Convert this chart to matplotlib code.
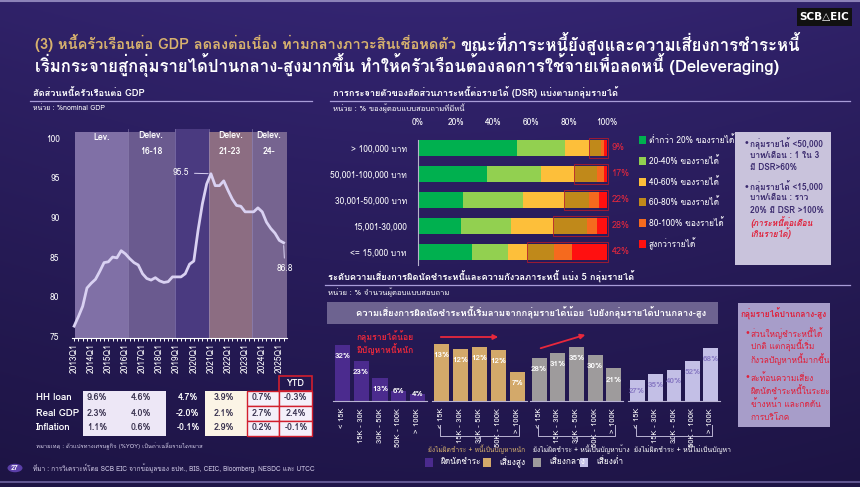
import numpy as np
import matplotlib
matplotlib.use("Agg")
import matplotlib.pyplot as plt
from matplotlib import font_manager
from matplotlib.ft2font import FT2Font
from matplotlib.patches import Rectangle, Circle, FancyArrowPatch
from matplotlib.lines import Line2D

W, H = 860, 487

# ---------------- data ----------------
quarters = [f"{y}Q{q}" for y in range(2013, 2026) for q in range(1, 5)][:50]
hh_debt = [76.3, 77.5, 78.8, 81.1, 81.7, 82.2, 83.2, 84.3, 84.4, 85.0, 84.9, 85.8,
           85.4, 84.8, 84.3, 84.0, 82.9, 82.3, 82.1, 82.4, 82.0, 81.8, 81.9, 82.5,
           82.5, 82.5, 82.9, 84.1, 84.5, 88.4, 91.7, 94.2, 95.5, 94.0, 94.0, 94.6,
           93.4, 92.3, 91.5, 91.4, 90.7, 90.7, 90.7, 91.2, 90.7, 89.4, 88.6, 88.0,
           87.1, 86.8]
period_names = ["Lev.", "Delev.\n16-18", "", "Delev.\n21-23", "Delev.\n24-"]
period_edges = [0.3, 12.5, 23.5, 31.5, 41.5, 49.7]

tbl_rows = ["HH loan", "Real GDP", "Inflation"]
hh_loan = ["9.6%", "4.6%", "4.7%", "3.9%", "0.7%", "-0.3%"]
real_gdp = ["2.3%", "4.0%", "-2.0%", "2.1%", "2.7%", "2.4%"]
inflation = ["1.1%", "0.6%", "-0.1%", "2.9%", "0.2%", "-0.1%"]

income_groups = ["> 100,000 บาท", "50,001-100,000 บาท", "30,001-50,000 บาท",
                 "15,001-30,000", "<= 15,000 บาท"]
dsr_labels = ["ต่ำกว่า 20% ของรายได้", "20-40% ของรายได้", "40-60% ของรายได้",
              "60-80% ของรายได้", "80-100% ของรายได้", "สูงกว่ารายได้"]
dsr_lt20 = [52.5, 36.5, 23.8, 22.6, 28.5]
dsr_20_40 = [25.5, 28.8, 31.6, 26.4, 19.0]
dsr_40_60 = [13.0, 17.6, 22.2, 23.0, 10.5]
dsr_60_80 = [6.0, 12.0, 12.9, 17.5, 14.0]
dsr_80_100 = [1.5, 3.3, 5.1, 5.0, 9.5]
dsr_gt100 = [1.5, 1.8, 4.4, 5.5, 18.5]
dsr_high = ["9%", "17%", "22%", "28%", "42%"]

risk_bins = ["< 15K", "15K - 30K", "30K - 50K", "50K - 100K", "> 100K"]
risk_default = [32, 23, 13, 6, 4]
risk_high = [13.0, 11.9, 12.3, 11.7, 6.7]
risk_mid = [28, 31, 35, 30, 21]
risk_low = [27, 35, 40, 52, 68]
risk_names = ["ผิดนัดชำระ", "เสี่ยงสูง", "เสี่ยงกลาง", "เสี่ยงต่ำ"]
group_notes = ["ยังไม่ผิดชำระ + หนี้เป็นปัญหาหนัก", "ยังไม่ผิดชำระ + หนี้เป็นปัญหาบ้าง",
               "ยังไม่ผิดชำระ + หนี้ไม่เป็นปัญหา"]


# ---------------- fonts ----------------
def thai_family():
    for f in font_manager.fontManager.ttflist:
        try:
            if 0x0E01 in FT2Font(f.fname).get_charmap():
                return f.name
        except Exception:
            pass
    return None


fam = thai_family()
plt.rcParams["font.family"] = ([fam] if fam else []) + ["DejaVu Sans"]

WHITE = "#FFFFFF"
GOLD = "#D8B26E"
RED = "#E8283C"


def fx(x):
    return x / W


def fy(y):
    return 1 - y / H


def axes_px(fig, l, t, r, b, **kw):
    return fig.add_axes([fx(l), fy(b), (r - l) / W, (b - t) / H], **kw)


def text_px(fig, x, y, s, **kw):
    kw.setdefault("color", WHITE)
    return fig.text(fx(x), fy(y), s, **kw)


def rect_px(fig, l, t, r, b, **kw):
    p = Rectangle((fx(l), fy(b)), (r - l) / W, (b - t) / H, transform=fig.transFigure, **kw)
    fig.add_artist(p)
    return p


def line_px(fig, xs, ys, **kw):
    fig.add_artist(Line2D([fx(x) for x in xs], [fy(y) for y in ys],
                          transform=fig.transFigure, **kw))


def fit(t, width, cap=None):
    # scale a text so that it spans about `width` pixels
    w = t.get_window_extent(renderer).width
    size = t.get_fontsize() * width / w
    t.set_fontsize(min(size, cap) if cap else size)
    return t


fig = plt.figure(figsize=(8.6, 4.87), dpi=100)
renderer = fig.canvas.get_renderer()

# background gradient
bg = fig.add_axes([0, 0, 1, 1], zorder=-10)
yy, xx = np.mgrid[0:1:200j, 0:1:300j]
top = np.array([0x30, 0x22, 0x69]) / 255
bot = np.array([0x1D, 0x14, 0x44]) / 255
t = (yy ** 0.9)[..., None]
grad = top * (1 - t) + bot * t
grad = grad * (1 + 0.08 * np.sin(np.pi * xx)[..., None])
bg.imshow(np.clip(grad, 0, 1), aspect="auto", extent=[0, 1, 0, 1], origin="upper")
bg.axis("off")
line_px(fig, [0, W], [1, 1], color="#8C82B8", lw=1.5)
line_px(fig, [0, W], [482, 482], color="#6E64A0", lw=1.2)

# logo
rect_px(fig, 797, 8, 852, 26, facecolor="#111111", edgecolor="none")
text_px(fig, 824.5, 17, "SCB△EIC", fontsize=7.5, fontweight="bold", ha="center",
        va="center", family="DejaVu Sans")

# title
t2 = text_px(fig, 35, 65, "เริ่มกระจายสู่กลุ่มรายได้ปานกลาง-สูงมากขึ้น ทำให้ครัวเรือนต้องลดการใช้จ่ายเพื่อลดหนี้ (Deleveraging)",
             fontsize=13, fontweight="bold", va="center")
fit(t2, 745)
fs = t2.get_fontsize()
t1 = text_px(fig, 35, 43, "(3) หนี้ครัวเรือนต่อ GDP ลดลงต่อเนื่อง ท่ามกลางภาวะสินเชื่อหดตัว",
             fontsize=fs, color=GOLD, fontweight="bold", va="center")
fit(t1, 421, cap=fs)
bb = t1.get_window_extent(renderer)
t1b = text_px(fig, bb.x1 + 4, 43, "ขณะที่ภาระหนี้ยังสูงและความเสี่ยงการชำระหนี้",
              fontsize=fs, fontweight="bold", va="center")
fit(t1b, 836 - bb.x1 - 4, cap=fs)

# section headers
for x0, x1, y, s, wd in [(33, 312, 93, "สัดส่วนหนี้ครัวเรือนต่อ GDP", 111),
                         (333, 850, 93, "การกระจายตัวของสัดส่วนภาระหนี้ต่อรายได้ (DSR) แบ่งตามกลุ่มรายได้", 284),
                         (328, 850, 277, "ระดับความเสี่ยงการผิดนัดชำระหนี้และความกังวลภาระหนี้ แบ่ง 5 กลุ่มรายได้", 307)]:
    fit(text_px(fig, x0, y, s, fontsize=7, fontweight="bold", va="center"), wd)
    line_px(fig, [x0 - 3, x1], [y + 8, y + 8], color="#A89CD8", lw=0.9)
text_px(fig, 33, 109, "หน่วย : %nominal GDP", fontsize=5, va="center")
text_px(fig, 333, 109, "หน่วย : % ของผู้ตอบแบบสอบถามที่มีหนี้", fontsize=5.5, va="center")
text_px(fig, 328, 293, "หน่วย : % จำนวนผู้ตอบแบบสอบถาม", fontsize=5.5, va="center")

# ---------------- left: household debt to GDP ----------------
ax = axes_px(fig, 72, 128.5, 287, 338)
ax.patch.set_alpha(0)
xi = np.arange(len(hh_debt))
pcol = ["#8070A6", "#6A5A8F", "#4A3A80", "#8C6D82", "#766490"]
for i in range(5):
    ax.axvspan(period_edges[i], period_edges[i + 1], ymin=0, ymax=0.985 if i != 2 else 1.0,
               color=pcol[i], lw=0, zorder=0)
    if period_names[i]:
        ax.text((period_edges[i] + period_edges[i + 1]) / 2, 99.3 if i else 100.1,
                period_names[i], ha="center", va="center", color=WHITE,
                fontsize=6.3, fontweight="bold", linespacing=1.9)
for e in period_edges[1:-1]:
    ax.axvline(e, color="#9A8FBE", lw=0.6, alpha=0.6, zorder=1)
ax.plot(xi, hh_debt, color="#D9D1F2", lw=2, zorder=3)
ax.set_xlim(-0.5, 49.8)
ax.set_ylim(74.8, 101.2)
ax.set_yticks(np.arange(75, 101, 5))
ax.set_xticks(xi[::4])
ax.set_xticklabels(quarters[::4], rotation=90)
ax.set_xticks(xi, minor=True)
ax.tick_params(axis="x", which="both", colors=WHITE, labelsize=6, length=2.5, width=0.7, pad=1.5)
ax.tick_params(axis="y", colors=WHITE, labelsize=6, length=0, pad=9)
for s in ["top", "right", "left"]:
    ax.spines[s].set_visible(False)
ax.spines["bottom"].set_color(WHITE)
ip = hh_debt.index(max(hh_debt))
ax.annotate(f"{max(hh_debt):.1f}", xy=(xi[ip], hh_debt[ip]), xytext=(xi[ip] - 9, hh_debt[ip] + 0.1),
            color=WHITE, fontsize=6, va="center",
            arrowprops=dict(arrowstyle="-", color="#D9D1F2", lw=0.7))
ax.annotate(f"{hh_debt[-1]:.1f}", xy=(xi[-1], hh_debt[-1]), xytext=(xi[-1] + 0.3, hh_debt[-1] - 3.2),
            color=WHITE, fontsize=6, ha="center", va="center",
            arrowprops=dict(arrowstyle="-", color="#D9D1F2", lw=0.7))

# table
col_x = [97, 141, 188, 224, 262, 296]
row_y = [398, 413, 428]
rect_px(fig, 83, 391, 166, 436, facecolor="#EDE7F6", edgecolor="none")
rect_px(fig, 205, 391, 247, 436, facecolor="#FBF4E6", edgecolor="none")
for j, (l, r) in enumerate([(247, 278.5), (278.5, 312)]):
    for k in range(3):
        rect_px(fig, l, 391 + 15 * k, r, 406 + 15 * k, facecolor="#F4F0FA",
                edgecolor="#D21F2E", lw=1)
rect_px(fig, 278.5, 376, 312, 391, facecolor="none", edgecolor="#D21F2E", lw=1.2)
text_px(fig, 295, 383.5, "YTD", fontsize=6.5, fontweight="bold", ha="center", va="center")
for k, (name, vals) in enumerate(zip(tbl_rows, [hh_loan, real_gdp, inflation])):
    text_px(fig, 36, row_y[k], name, fontsize=7, fontweight="bold", va="center")
    for j, v in enumerate(vals):
        text_px(fig, col_x[j], row_y[k], v, fontsize=6.5, fontweight="bold", ha="center",
                va="center", color=WHITE if j == 2 else "#3A3350")
fit(text_px(fig, 36, 446, "หมายเหตุ : ตัวแปรทางเศรษฐกิจ (%YOY) เป็นค่าเฉลี่ยรายไตรมาส",
            fontsize=4.5, va="center", color="#D5CFEA"), 167)

# footer
fig.add_artist(Circle((fx(15), fy(468)), 7.5 / W, transform=fig.transFigure,
                      facecolor="#5B3FA8", edgecolor="none"))
text_px(fig, 15, 468, "27", fontsize=5, ha="center", va="center", fontweight="bold")
fit(text_px(fig, 33, 468, "ที่มา : การวิเคราะห์โดย SCB EIC จากข้อมูลของ ธปท., BIS, CEIC, Bloomberg, NESDC และ UTCC",
            fontsize=5.5, va="center", color="#D5CFEA"), 283)

# ---------------- top right: DSR distribution ----------------
ax2 = axes_px(fig, 418, 135, 607, 265)
ax2.patch.set_alpha(0)
dsr_cols = ["#00B04F", "#92D050", "#FDBF3A", "#C0891A", "#F56A1E", "#FF1010"]
yi = np.arange(len(income_groups))
left = np.zeros(len(income_groups))
series = [dsr_lt20, dsr_20_40, dsr_40_60, dsr_60_80, dsr_80_100, dsr_gt100]
for k, (vals, c) in enumerate(zip(series, dsr_cols)):
    ax2.barh(yi, vals, left=left, height=0.65, color=c, edgecolor="none", zorder=2)
    if k == 3:
        starts = left.copy()
    left = left + np.array(vals)
for i in yi:
    ax2.add_patch(Rectangle((starts[i] - 0.5, i - 0.38), 100.8 - starts[i], 0.76, fill=False,
                            edgecolor="#B01A2C", lw=0.6, zorder=3, clip_on=False))
    ax2.text(102.5, i, dsr_high[i], color=RED, fontsize=6.5, va="center", ha="left")
ax2.set_xlim(0, 100)
ax2.set_ylim(4.5, -0.5)
ax2.xaxis.tick_top()
ax2.set_xticks(np.arange(0, 101, 20))
ax2.set_xticklabels([f"{v}%" for v in range(0, 101, 20)])
ax2.set_yticks(yi)
ax2.set_yticklabels(income_groups)
ax2.tick_params(colors=WHITE, labelsize=6, length=0, pad=8)
ax2.tick_params(axis="x", pad=6)
for s in ["top", "right", "bottom"]:
    ax2.spines[s].set_visible(False)
ax2.spines["left"].set_color("#B8B2CC")
ax2.spines["left"].set_bounds(-0.3, 4.5)
for k, (lab, c) in enumerate(zip(dsr_labels, dsr_cols)):
    y = 140 + 20.8 * k
    rect_px(fig, 639, y - 4, 646, y + 4, facecolor=c, edgecolor="none")
    text_px(fig, 649, y, lab, fontsize=6, va="center")

# note box top right
rect_px(fig, 735, 132, 831, 265, facecolor="#C9C3DC", edgecolor="none")
notes1 = [("•", 745, 144, "#3A2A6E"), ("กลุ่มรายได้ <50,000", 750, 144, "#3A2A6E"),
          ("บาท/เดือน : 1 ใน 3", 750, 156, "#3A2A6E"), ("มี DSR>60%", 750, 167, "#3A2A6E"),
          ("•", 745, 187, "#3A2A6E"), ("กลุ่มรายได้ <15,000", 750, 187, "#3A2A6E"),
          ("บาท/เดือน : ราว", 750, 198, "#3A2A6E"), ("20% มี DSR >100%", 750, 210, "#3A2A6E"),
          ("(ภาระหนี้ต่อเดือน", 750, 222, "#E0203A"), ("เกินรายได้)", 750, 233, "#E0203A")]
for s, x, y, c in notes1:
    text_px(fig, x, y, s, fontsize=6, va="center", color=c,
            fontweight="bold", style="italic" if c == "#E0203A" else "normal")

# ---------------- bottom right: risk groups ----------------
rect_px(fig, 327, 302, 718, 324, facecolor="#6D6390", edgecolor="none")
fit(text_px(fig, 531, 313, "ความเสี่ยงการผิดนัดชำระหนี้เริ่มลามจากกลุ่มรายได้น้อย ไปยังกลุ่มรายได้ปานกลาง-สูง",
            fontsize=7.5, fontweight="bold", ha="center", va="center"), 352)

groups = [risk_default, risk_high, risk_mid, risk_low]
gcols = ["#4B2B8E", "#D3A96A", "#9E9B9C", "#C3BFE6"]
lcols = [WHITE, WHITE, WHITE, "#8677C2"]
gspan = [(333, 427), (432, 527), (530, 623), (628, 720)]
gtop = [34.9, 13.9, 39.4, 78.7]
for g, vals in enumerate(groups):
    l, r = gspan[g]
    a = axes_px(fig, l, 340, r, 401)
    a.patch.set_alpha(0)
    bi = np.arange(len(vals))
    a.bar(bi, vals, width=0.8, color=gcols[g], edgecolor="none")
    a.set_xlim(-0.5, 4.5)
    a.set_ylim(0, gtop[g])
    for i, v in enumerate(vals):
        hpx = v / gtop[g] * 61
        off = -8 if hpx > 16 else 0
        a.annotate(f"{v:.0f}%", xy=(i, v), xytext=(0, off), textcoords="offset points",
                   ha="center", va="center", color=lcols[g], fontsize=5.8, fontweight="bold")
    a.set_yticks([])
    a.set_xticks(bi)
    a.set_xticklabels(risk_bins, rotation=90)
    a.tick_params(axis="x", colors=WHITE, labelsize=5.5, length=0, pad=5)
    for s in ["top", "right", "left"]:
        a.spines[s].set_visible(False)
    a.spines["bottom"].set_color("#B9B3D3")
    a.spines["bottom"].set_linewidth(0.8)

# braces + group notes
note_cols = [GOLD, WHITE, WHITE]
note_x = [477, 581, 683]
for k, (l, r) in enumerate(gspan[1:]):
    l2, r2 = l + 8, r - 8
    c = (l2 + r2) / 2
    line_px(fig, [l2, l2, r2, r2], [425, 436, 436, 425], color="#B9B3D3", lw=0.7)
    line_px(fig, [c, c], [436, 441], color="#B9B3D3", lw=0.7)
    fit(text_px(fig, note_x[k], 449, group_notes[k], fontsize=6,
                ha="center", va="center", color=note_cols[k]), 97)

for k, (name, c) in enumerate(zip(risk_names, gcols)):
    x = [425, 483, 533, 580][k]
    rect_px(fig, x, 458, x + 8, 467, facecolor=c, edgecolor="none")
    text_px(fig, x + 16, 462, name, fontsize=6, va="center")

text_px(fig, 385, 337, "กลุ่มรายได้น้อย", fontsize=6.2, color=RED, ha="center", va="center",
        fontweight="bold")
text_px(fig, 385, 349, "มีปัญหาหนี้หนัก", fontsize=6.2, color=RED, ha="center", va="center",
        fontweight="bold")
for (x0, y0), (x1, y1) in [((438, 337), (501, 337)), ((538, 349), (588, 334))]:
    fig.add_artist(FancyArrowPatch((fx(x0), fy(y0)), (fx(x1), fy(y1)),
                                   transform=fig.transFigure, arrowstyle="-|>",
                                   mutation_scale=7, color=RED, lw=1.3))

# note box bottom right
rect_px(fig, 738, 303, 830, 427, facecolor="#A79DC9", edgecolor="none")
text_px(fig, 784, 314, "กลุ่มรายได้ปานกลาง-สูง", fontsize=6, fontweight="bold",
        ha="center", va="center", color="#E0203A")
notes2 = [("•", 745, 333), ("ส่วนใหญ่ชำระหนี้ได้", 751, 333), ("ปกติ แต่กลุ่มนี้เริ่ม", 751, 346),
          ("กังวลปัญหาหนี้มากขึ้น", 751, 359), ("•", 745, 378), ("สะท้อนความเสี่ยง", 751, 378),
          ("ผิดนัดชำระหนี้ในระยะ", 751, 391), ("ข้างหน้า และกดดัน", 751, 404),
          ("การบริโภค", 751, 418)]
for s, x, y in notes2:
    text_px(fig, x, y, s, fontsize=6, va="center", color="#E0203A")

fig.savefig("out.png", dpi=100)
